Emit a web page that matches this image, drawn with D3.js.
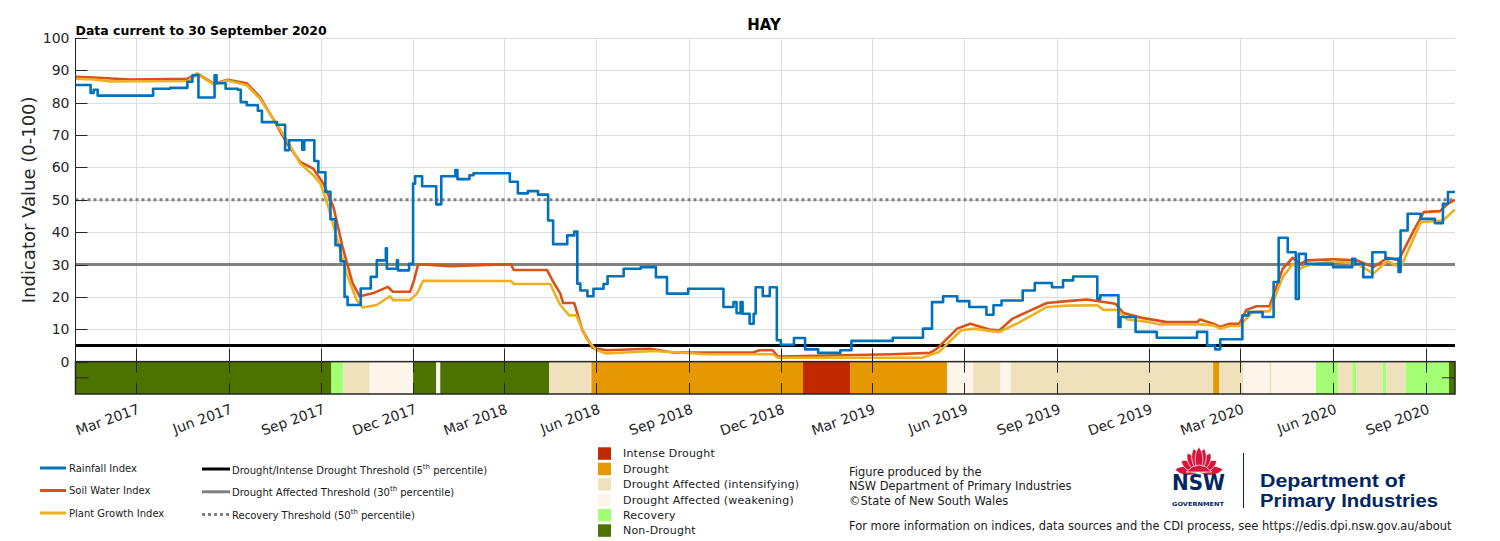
<!DOCTYPE html>
<html lang="en">
<head>
<meta charset="UTF-8">
<title>HAY</title>
<script src="https://d3js.org/d3.v7.min.js"></script>
<style>
  body { margin: 0; background: #fff; }
  svg { display: block; font-family: "DejaVu Sans", sans-serif; }
</style>
</head>
<body>
<div id="container"></div>
<script>
// ---- data ----
const rainfallDates = ["2016-12-31","2017-01-14","2017-01-15","2017-01-18","2017-01-22","2017-03-18","2017-04-04","2017-04-21","2017-04-26","2017-05-02","2017-05-18","2017-05-20","2017-05-29","2017-06-10","2017-06-13","2017-06-19","2017-06-30","2017-07-04","2017-07-19","2017-07-27","2017-07-31","2017-08-13","2017-08-15","2017-08-25","2017-08-29","2017-09-05","2017-09-10","2017-09-15","2017-09-20","2017-09-24","2017-09-27","2017-10-10","2017-10-20","2017-10-26","2017-11-04","2017-11-05","2017-11-15","2017-11-16","2017-11-27","2017-12-01","2017-12-03","2017-12-10","2017-12-24","2017-12-29","2018-01-12","2018-01-14","2018-01-26","2018-01-30","2018-03-07","2018-03-15","2018-03-25","2018-04-04","2018-04-14","2018-04-19","2018-05-03","2018-05-10","2018-05-13","2018-05-16","2018-05-23","2018-05-29","2018-06-08","2018-06-12","2018-06-28","2018-07-15","2018-07-30","2018-08-10","2018-08-31","2018-10-05","2018-10-15","2018-10-18","2018-10-22","2018-10-24","2018-10-31","2018-11-04","2018-11-06","2018-11-13","2018-11-20","2018-11-27","2018-12-01","2018-12-14","2018-12-25","2019-01-07","2019-01-29","2019-02-09","2019-03-22","2019-04-21","2019-04-30","2019-05-11","2019-05-25","2019-06-06","2019-06-23","2019-06-30","2019-07-08","2019-07-29","2019-08-10","2019-08-27","2019-09-07","2019-09-17","2019-10-11","2019-10-14","2019-11-01","2019-11-03","2019-11-18","2019-12-09","2020-01-18","2020-01-28","2020-02-05","2020-02-10","2020-03-03","2020-03-09","2020-03-23","2020-04-03","2020-04-08","2020-04-17","2020-04-25","2020-04-28","2020-05-05","2020-06-01","2020-06-20","2020-06-23","2020-07-01","2020-07-10","2020-07-23","2020-08-05","2020-08-07","2020-08-14","2020-08-27","2020-09-10","2020-09-18","2020-09-23","2020-09-30"];
const rainfallValues = [85.5,85.5,83.0,84.0,82.2,84.3,84.6,86.5,88.5,81.6,88.5,86.0,84.3,84.0,80.2,79.2,77.5,74.0,73.2,65.3,68.4,65.5,68.4,62.0,58.5,52.5,44,36,31,20,17.5,22.6,26.2,31.3,35.0,28.7,31.3,28.2,30.2,55.0,57.3,54.2,48.6,57.3,59.2,56.4,57.6,58.2,55.6,52.0,52.7,51.6,43.6,36.3,39.0,40.2,24.1,22.0,20.2,22.5,24.0,26.4,28.7,29.2,26.1,21.0,22.5,16.9,18.4,15.0,18.4,14.8,11.7,14.8,23.0,20.3,23.0,6.6,5.2,7.3,3.8,2.7,3.5,6.4,7.4,10.2,18.4,20.2,18.7,16.9,14.5,17.4,18.9,22.0,24.3,23.0,25.1,26.3,19.4,20.5,10.7,13.8,9.2,7.4,9.2,5.0,3.8,6.9,14.3,15.3,13.8,24.6,38.3,33.8,19.4,33.3,30.2,29.2,31.8,30.2,26.1,33.8,31.8,27.7,40.5,45.7,44.1,42.8,48.8,52.4,52.4];

const soilDates = ["2016-12-31","2017-01-18","2017-02-23","2017-04-21","2017-05-01","2017-05-17","2017-05-31","2017-06-19","2017-07-02","2017-07-15","2017-07-29","2017-08-11","2017-08-24","2017-09-03","2017-09-13","2017-09-22","2017-10-02","2017-10-09","2017-10-22","2017-11-06","2017-11-11","2017-11-28","2017-12-02","2017-12-06","2018-01-07","2018-03-08","2018-03-11","2018-04-13","2018-04-19","2018-04-26","2018-04-29","2018-05-10","2018-05-18","2018-05-28","2018-06-11","2018-07-24","2018-08-16","2018-11-03","2018-11-10","2018-11-23","2018-11-28","2019-03-22","2019-04-28","2019-05-05","2019-05-25","2019-06-07","2019-06-26","2019-07-06","2019-07-19","2019-08-02","2019-08-22","2019-09-11","2019-10-01","2019-10-29","2019-11-06","2019-11-23","2019-12-19","2020-01-18","2020-01-21","2020-02-03","2020-02-10","2020-02-19","2020-02-29","2020-03-07","2020-03-17","2020-03-30","2020-04-12","2020-04-22","2020-04-29","2020-05-06","2020-06-01","2020-06-25","2020-07-11","2020-07-25","2020-08-05","2020-08-20","2020-08-30","2020-09-15","2020-09-23","2020-09-30"];
const soilValues = [88.0,87.8,87.2,87.4,89.0,85.9,87.1,86.0,81.8,75.1,67.4,61.7,59.6,55.0,47.8,35.5,24.2,20.2,21.1,23.1,21.6,21.6,25.2,30.1,29.5,30.1,28.3,28.3,24.7,21.1,18.1,18.1,9.7,4.3,3.5,4.0,2.8,2.8,3.5,3.5,1.6,2.3,2.7,4.0,10.2,11.7,9.9,9.7,13.3,15.3,18.1,18.7,19.2,17.9,15.0,13.6,12.2,12.2,13.0,11.7,10.7,11.7,11.7,16.0,17.1,17.1,28.7,32.1,30.2,31.3,31.6,31.3,29.2,32.1,31.3,40.5,46.2,46.5,48.8,50.0];

const plantDates = ["2016-12-31","2017-01-18","2017-02-04","2017-04-21","2017-05-01","2017-05-17","2017-05-31","2017-06-19","2017-07-02","2017-07-15","2017-07-29","2017-08-11","2017-08-24","2017-08-31","2017-09-07","2017-09-16","2017-09-26","2017-10-06","2017-10-12","2017-10-26","2017-11-08","2017-11-11","2017-11-28","2017-12-05","2017-12-11","2018-03-08","2018-03-11","2018-04-16","2018-04-26","2018-05-05","2018-05-12","2018-05-22","2018-06-01","2018-06-11","2018-07-27","2018-09-18","2018-11-23","2018-11-28","2019-04-20","2019-05-07","2019-05-29","2019-06-11","2019-06-26","2019-07-06","2019-07-23","2019-08-22","2019-09-11","2019-10-11","2019-10-17","2019-10-31","2019-11-10","2019-12-02","2019-12-12","2020-01-21","2020-02-03","2020-02-10","2020-02-19","2020-02-29","2020-03-13","2020-03-30","2020-04-12","2020-04-22","2020-04-29","2020-05-06","2020-06-01","2020-06-25","2020-07-11","2020-07-25","2020-08-07","2020-08-27","2020-09-18","2020-09-30"];
const plantValues = [87.4,87.2,86.6,86.7,88.8,85.7,86.9,85.4,81.3,75.1,68.4,61.2,57.6,55.0,48.8,38.6,27.2,19.0,16.7,17.5,20.2,19.0,19.0,21.1,25.0,24.9,24.0,24.0,17.5,14.3,14.3,7.1,3.5,2.5,3.3,2.3,2.3,1.2,1.2,3.0,9.7,10.2,9.5,9.2,11.7,16.9,17.3,17.4,16.0,16.0,13.0,12.2,11.5,11.5,11.2,10.2,11.0,11.0,15.3,15.6,26.1,30.2,28.7,29.7,31.0,30.2,27.2,31.1,29.0,43.1,43.6,47.0];

// drought category strip: start date of each run + category index
const categoryNames = ["Intense Drought","Drought","Drought Affected (intensifying)","Drought Affected (weakening)","Recovery","Non-Drought"];
const categoryColors = ["#c12a00","#e69800","#eee1bc","#fdf5ea","#a3ff73","#4c7300"];
const stripStarts = ["2016-12-31","2017-09-11","2017-09-23","2017-10-19","2017-12-01","2017-12-24","2017-12-28","2018-04-15","2018-05-27","2018-12-23","2019-02-08","2019-05-15","2019-06-10","2019-07-07","2019-07-17","2020-02-03","2020-02-09","2020-03-04","2020-03-30","2020-04-01","2020-05-15","2020-06-06","2020-06-20","2020-06-24","2020-07-20","2020-07-24","2020-08-12","2020-09-24"];
const stripClasses = [5,4,2,3,5,3,5,2,1,0,1,3,2,3,2,1,2,3,2,3,4,2,4,2,4,2,4,5];

const thresholds = [5, 30, 50];
const xTickDates = ["2017-03-01","2017-06-01","2017-09-01","2017-12-01","2018-03-01","2018-06-01","2018-09-01","2018-12-01","2019-03-01","2019-06-01","2019-09-01","2019-12-01","2020-03-01","2020-06-01","2020-09-01"];
const yTicks = [0,10,20,30,40,50,60,70,80,90,100];

// ---- setup ----
const parse = d3.timeParse("%Y-%m-%d");
const W = 1500, H = 541;
const pL = 75.5, pR = 1455, pT = 38, pB = 394;
const axisCol = "#262626";

const svg = d3.select("#container").append("svg").attr("width", W).attr("height", H);

const x = d3.scaleTime().domain([parse("2016-12-31"), parse("2020-09-30")]).range([pL, pR]);
const y = d3.scaleLinear().domain([-10, 100]).range([pB, pT]);

// grid
svg.append("g").selectAll("line").data(yTicks.filter(d => d > 0)).enter().append("line")
  .attr("x1", pL).attr("x2", pR)
  .attr("y1", d => Math.round(y(d)) + 0.5).attr("y2", d => Math.round(y(d)) + 0.5)
  .attr("stroke", "#dedede").attr("stroke-width", 1);
svg.append("g").selectAll("line").data(xTickDates).enter().append("line")
  .attr("x1", d => Math.round(x(parse(d))) + 0.5).attr("x2", d => Math.round(x(parse(d))) + 0.5)
  .attr("y1", pT).attr("y2", y(0))
  .attr("stroke", "#dedede").attr("stroke-width", 1);

// thresholds
const thStyle = [{c: "#000", dash: null}, {c: "#808080", dash: null}, {c: "#808080", dash: "3,3"}];
svg.append("g").selectAll("line").data(thresholds).enter().append("line")
  .attr("x1", pL).attr("x2", pR)
  .attr("y1", d => y(d)).attr("y2", d => y(d))
  .attr("stroke", (d, i) => thStyle[i].c)
  .attr("stroke-width", 3)
  .attr("stroke-dasharray", (d, i) => thStyle[i].dash);

// index lines
svg.append("clipPath").attr("id", "clip").append("rect")
  .attr("x", pL).attr("y", pT - 2).attr("width", pR - pL).attr("height", y(0) - pT + 2);

const series = [
  {dates: soilDates, values: soilValues, color: "#d95319", curve: d3.curveLinear},
  {dates: plantDates, values: plantValues, color: "#edb120", curve: d3.curveLinear},
  {dates: rainfallDates, values: rainfallValues, color: "#0072bd", curve: d3.curveStepAfter}
];
series.forEach(s => {
  const pts = s.dates.map((d, i) => [parse(d), s.values[i]]).filter(p => p[1] !== undefined);
  const line = d3.line().x(p => x(p[0])).y(p => y(p[1])).curve(s.curve);
  svg.append("path").datum(pts)
    .attr("clip-path", "url(#clip)")
    .attr("fill", "none").attr("stroke", s.color).attr("stroke-width", 2.6)
    .attr("stroke-linejoin", "round")
    .attr("d", line);
});

// category strip
const stripEnd = parse("2020-09-30");
svg.append("g").selectAll("rect").data(stripStarts).enter().append("rect")
  .attr("x", d => x(parse(d)))
  .attr("width", (d, i) => x(i < stripStarts.length - 1 ? parse(stripStarts[i + 1]) : stripEnd) - x(parse(d)))
  .attr("y", y(0)).attr("height", y(-10) - y(0))
  .attr("fill", (d, i) => categoryColors[stripClasses[i]]);
svg.append("rect").attr("x", pL).attr("y", y(0)).attr("width", pR - pL).attr("height", y(-10) - y(0))
  .attr("fill", "none").attr("stroke", axisCol).attr("stroke-width", 1.5);

// strip ticks (top and bottom, inward) + main axis bottom ticks + middle y tick
xTickDates.forEach(d => {
  const xx = Math.round(x(parse(d))) + 0.5;
  svg.append("line").attr("x1", xx).attr("x2", xx).attr("y1", y(0)).attr("y2", y(0) + 11).attr("stroke", axisCol);
  svg.append("line").attr("x1", xx).attr("x2", xx).attr("y1", y(-10) - 11).attr("y2", y(-10)).attr("stroke", axisCol);
  svg.append("line").attr("x1", xx).attr("x2", xx).attr("y1", y(0) - 13).attr("y2", y(0)).attr("stroke", axisCol);
});
svg.append("line").attr("x1", pL).attr("x2", pL + 13).attr("y1", y(-5)).attr("y2", y(-5)).attr("stroke", axisCol);
svg.append("line").attr("x1", pR - 13).attr("x2", pR).attr("y1", y(-5)).attr("y2", y(-5)).attr("stroke", axisCol);

// y axis
svg.append("line").attr("x1", pL).attr("x2", pL).attr("y1", pT).attr("y2", y(0)).attr("stroke", axisCol);
svg.append("g").selectAll("line").data(yTicks).enter().append("line")
  .attr("x1", pL).attr("x2", pL + 12)
  .attr("y1", d => Math.round(y(d)) + 0.5).attr("y2", d => Math.round(y(d)) + 0.5)
  .attr("stroke", axisCol);
svg.append("g").selectAll("text").data(yTicks).enter().append("text")
  .attr("x", pL - 6).attr("y", d => y(d)).attr("dy", "0.36em")
  .attr("text-anchor", "end").attr("font-size", 14).attr("fill", axisCol)
  .text(d => d);
svg.append("text")
  .attr("transform", `translate(35,${(pT + y(0)) / 2}) rotate(-90)`)
  .attr("text-anchor", "middle").attr("font-size", 18).attr("fill", axisCol)
  .text("Indicator Value (0-100)");

// x tick labels
const fmt = d3.timeFormat("%b %Y");
svg.append("g").selectAll("text").data(xTickDates).enter().append("text")
  .attr("transform", d => `translate(${x(parse(d)) + 1},${pB + 9}) rotate(-20)`)
  .attr("dy", "0.75em").attr("text-anchor", "end")
  .attr("font-size", 14).attr("fill", axisCol)
  .text(d => fmt(parse(d)));

// titles
svg.append("text").attr("x", 764).attr("y", 30).attr("text-anchor", "middle")
  .attr("font-size", 15).attr("font-weight", "bold").attr("fill", "#000").text("HAY");
svg.append("text").attr("x", pL).attr("y", 34.5)
  .attr("font-size", 12.5).attr("font-weight", "bold").attr("fill", "#000").text("Data current to 30 September 2020");

// ---- legends ----
const lg = svg.append("g").attr("font-size", 10).attr("fill", "#1a1a1a");
const idxLegend = [["Rainfall Index", "#0072bd"], ["Soil Water Index", "#d95319"], ["Plant Growth Index", "#edb120"]];
idxLegend.forEach((d, i) => {
  const yy = 468 + i * 22.5;
  lg.append("line").attr("x1", 40).attr("x2", 66).attr("y1", yy).attr("y2", yy).attr("stroke", d[1]).attr("stroke-width", 3);
  lg.append("text").attr("x", 69).attr("y", yy + 3.5).text(d[0]);
});
const thLegend = [["Drought/Intense Drought Threshold (5", "th", " percentile)"],
                  ["Drought Affected Threshold (30", "th", " percentile)"],
                  ["Recovery Threshold (50", "th", " percentile)"]];
thLegend.forEach((d, i) => {
  const yy = 469 + i * 22.8;
  lg.append("line").attr("x1", 202).attr("x2", 230).attr("y1", yy).attr("y2", yy)
    .attr("stroke", thStyle[i].c).attr("stroke-width", 3).attr("stroke-dasharray", thStyle[i].dash);
  const t = lg.append("text").attr("x", 232).attr("y", yy + 4.5);
  t.append("tspan").text(d[0]);
  t.append("tspan").attr("dy", -5).attr("font-size", 7).text(d[1]);
  t.append("tspan").attr("dy", 5).text(d[2]);
});
categoryNames.forEach((name, i) => {
  const yy = 447.3 + i * 15.4;
  lg.append("rect").attr("x", 598).attr("y", yy).attr("width", 13).attr("height", 12.5).attr("fill", categoryColors[i]);
  lg.append("text").attr("x", 623).attr("y", yy + 10).attr("font-size", 11).attr("letter-spacing", 0.2).text(name);
});

const info = ["Figure produced by the", "NSW Department of Primary Industries", "\u00a9State of New South Wales"];
info.forEach((t, i) => {
  lg.append("text").attr("x", 849).attr("y", 476 + i * 14.3).attr("font-size", 11.45).text(t);
});
lg.append("text").attr("x", 849).attr("y", 530).attr("font-size", 11.45)
  .text("For more information on indices, data sources and the CDI process, see https://edis.dpi.nsw.gov.au/about");

// ---- NSW logo ----
const logo = svg.append("g");
const red = "#d7153a", navy = "#002664";
const petal = (L, w) => `M0,0 C${-w},${-L * 0.35} ${-w * 0.7},${-L * 0.8} 0,${-L} C${w * 0.7},${-L * 0.8} ${w},${-L * 0.35} 0,0Z`;
const petals = [[-84, 24, 7], [84, 24, 7], [-58, 21, 7], [58, 21, 7], [-32, 22, 7], [32, 22, 7], [-13, 24, 6.5], [13, 24, 6.5], [0, 25, 6]];
petals.forEach(p => {
  logo.append("path").attr("d", petal(p[1], p[2]))
    .attr("transform", `translate(1199,472) rotate(${p[0]})`)
    .attr("fill", red).attr("stroke", "#fff").attr("stroke-width", 0.7);
});
logo.append("path").attr("d", "M1186,472 Q1199,458 1212,472 Z").attr("fill", red).attr("stroke", "#fff").attr("stroke-width", 0.7);
logo.append("text").attr("x", 1172).attr("y", 490).attr("font-size", 21).attr("font-weight", "bold")
  .attr("fill", navy).attr("textLength", 53).attr("lengthAdjust", "spacingAndGlyphs").text("NSW");
logo.append("text").attr("x", 1172).attr("y", 506).attr("font-size", 5.5).attr("font-weight", "bold")
  .attr("fill", navy).attr("textLength", 52).attr("lengthAdjust", "spacingAndGlyphs").text("GOVERNMENT");
logo.append("line").attr("x1", 1243.5).attr("x2", 1243.5).attr("y1", 453).attr("y2", 508).attr("stroke", navy).attr("stroke-width", 1);
logo.append("text").attr("x", 1260).attr("y", 486.5).attr("font-size", 18).attr("font-weight", "bold")
  .attr("font-family", "'Liberation Sans', sans-serif")
  .attr("fill", navy).attr("textLength", 145).attr("lengthAdjust", "spacingAndGlyphs").text("Department of");
logo.append("text").attr("x", 1260).attr("y", 507).attr("font-size", 18).attr("font-weight", "bold")
  .attr("font-family", "'Liberation Sans', sans-serif")
  .attr("fill", navy).attr("textLength", 178).attr("lengthAdjust", "spacingAndGlyphs").text("Primary Industries");
</script>
</body>
</html>
